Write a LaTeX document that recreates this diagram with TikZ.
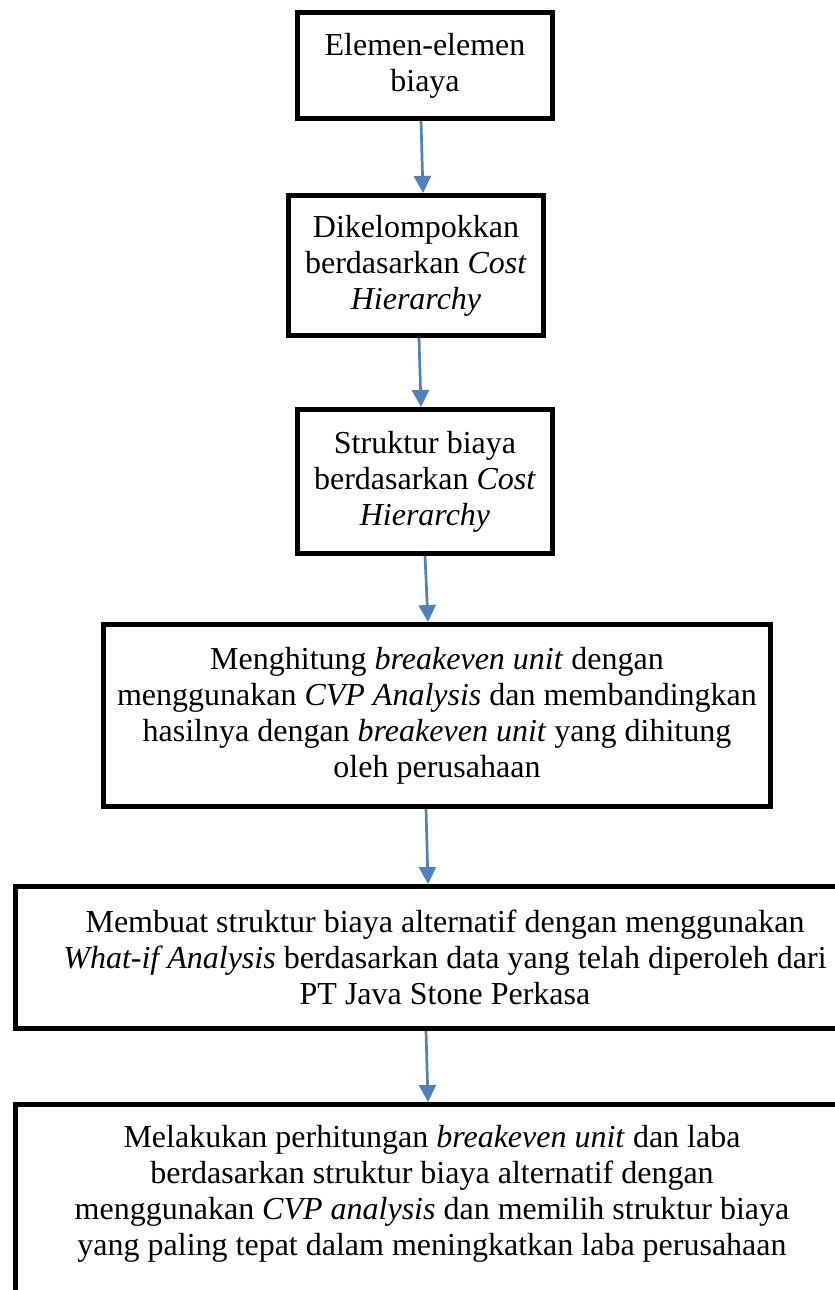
\documentclass[tikz,border=0pt]{standalone}
\usepackage{fontspec}
\setmainfont{Liberation Serif}
\usetikzlibrary{arrows.meta, positioning}
\definecolor{flowblue}{RGB}{79, 129, 189}

\begin{document}
\begin{tikzpicture}[x=0.5pt, y=-0.5pt,
  stepbox/.style={draw=black, line width=2.5pt, align=center, font=\fontsize{16}{18}\selectfont},
  steptext/.style={align=center, font=\fontsize{16}{18}\selectfont},
  flowarrow/.style={-{Triangle[width=8.5pt, length=8.5pt]}, line width=1.35pt, flowblue}]
  \clip (0,0) rectangle (835,1290);
  \fill[white] (0,0) rectangle (835,1290);

  % Steps
  \node[stepbox, minimum width=127.5pt, minimum height=53pt] (elemen) at (425,65.5) {Elemen-elemen\\biaya};
  \node[stepbox, minimum width=127.5pt, minimum height=70pt] (kelompok) at (416,265.5) {Dikelompokkan\\berdasarkan \textit{Cost}\\\textit{Hierarchy}};
  \node[stepbox, minimum width=127.5pt, minimum height=72pt] (struktur) at (425,481.5) {Struktur biaya\\berdasarkan \textit{Cost}\\\textit{Hierarchy}};
  \node[stepbox, minimum width=333.5pt, minimum height=91pt] (hitung) at (437,715.5) {Menghitung \textit{breakeven unit} dengan\\menggunakan \textit{CVP Analysis} dan membandingkan\\hasilnya dengan \textit{breakeven unit} yang dihitung\\oleh perusahaan};
  \node[stepbox, minimum width=429.5pt, minimum height=71pt] (alternatif) at (445,957.5) {Membuat struktur biaya alternatif dengan menggunakan\\\textit{What-if Analysis} berdasarkan data yang telah diperoleh dari\\PT Java Stone Perkasa};
  \node[stepbox, minimum width=416.5pt, minimum height=120pt, anchor=north] (laba) at (432,1102) {};
  \node[steptext] (labatext) at (432,1194) {Melakukan perhitungan \textit{breakeven unit} dan laba\\berdasarkan struktur biaya alternatif dengan\\menggunakan \textit{CVP analysis} dan memilih struktur biaya\\yang paling tepat dalam meningkatkan laba perusahaan};

  % Flow
  \draw[flowarrow] ([xshift=-2pt]elemen.south) -- ([xshift=3.5pt]kelompok.north);
  \draw[flowarrow] ([xshift=1.5pt]kelompok.south) -- ([xshift=-2pt]struktur.north);
  \draw[flowarrow] (struktur.south) -- ([xshift=-4.5pt]hitung.north);
  \draw[flowarrow] ([xshift=-5.5pt]hitung.south) -- ([xshift=-8.5pt]alternatif.north);
  \draw[flowarrow] ([xshift=-9.5pt]alternatif.south) -- ([xshift=-2pt]laba.north);
\end{tikzpicture}
\end{document}
